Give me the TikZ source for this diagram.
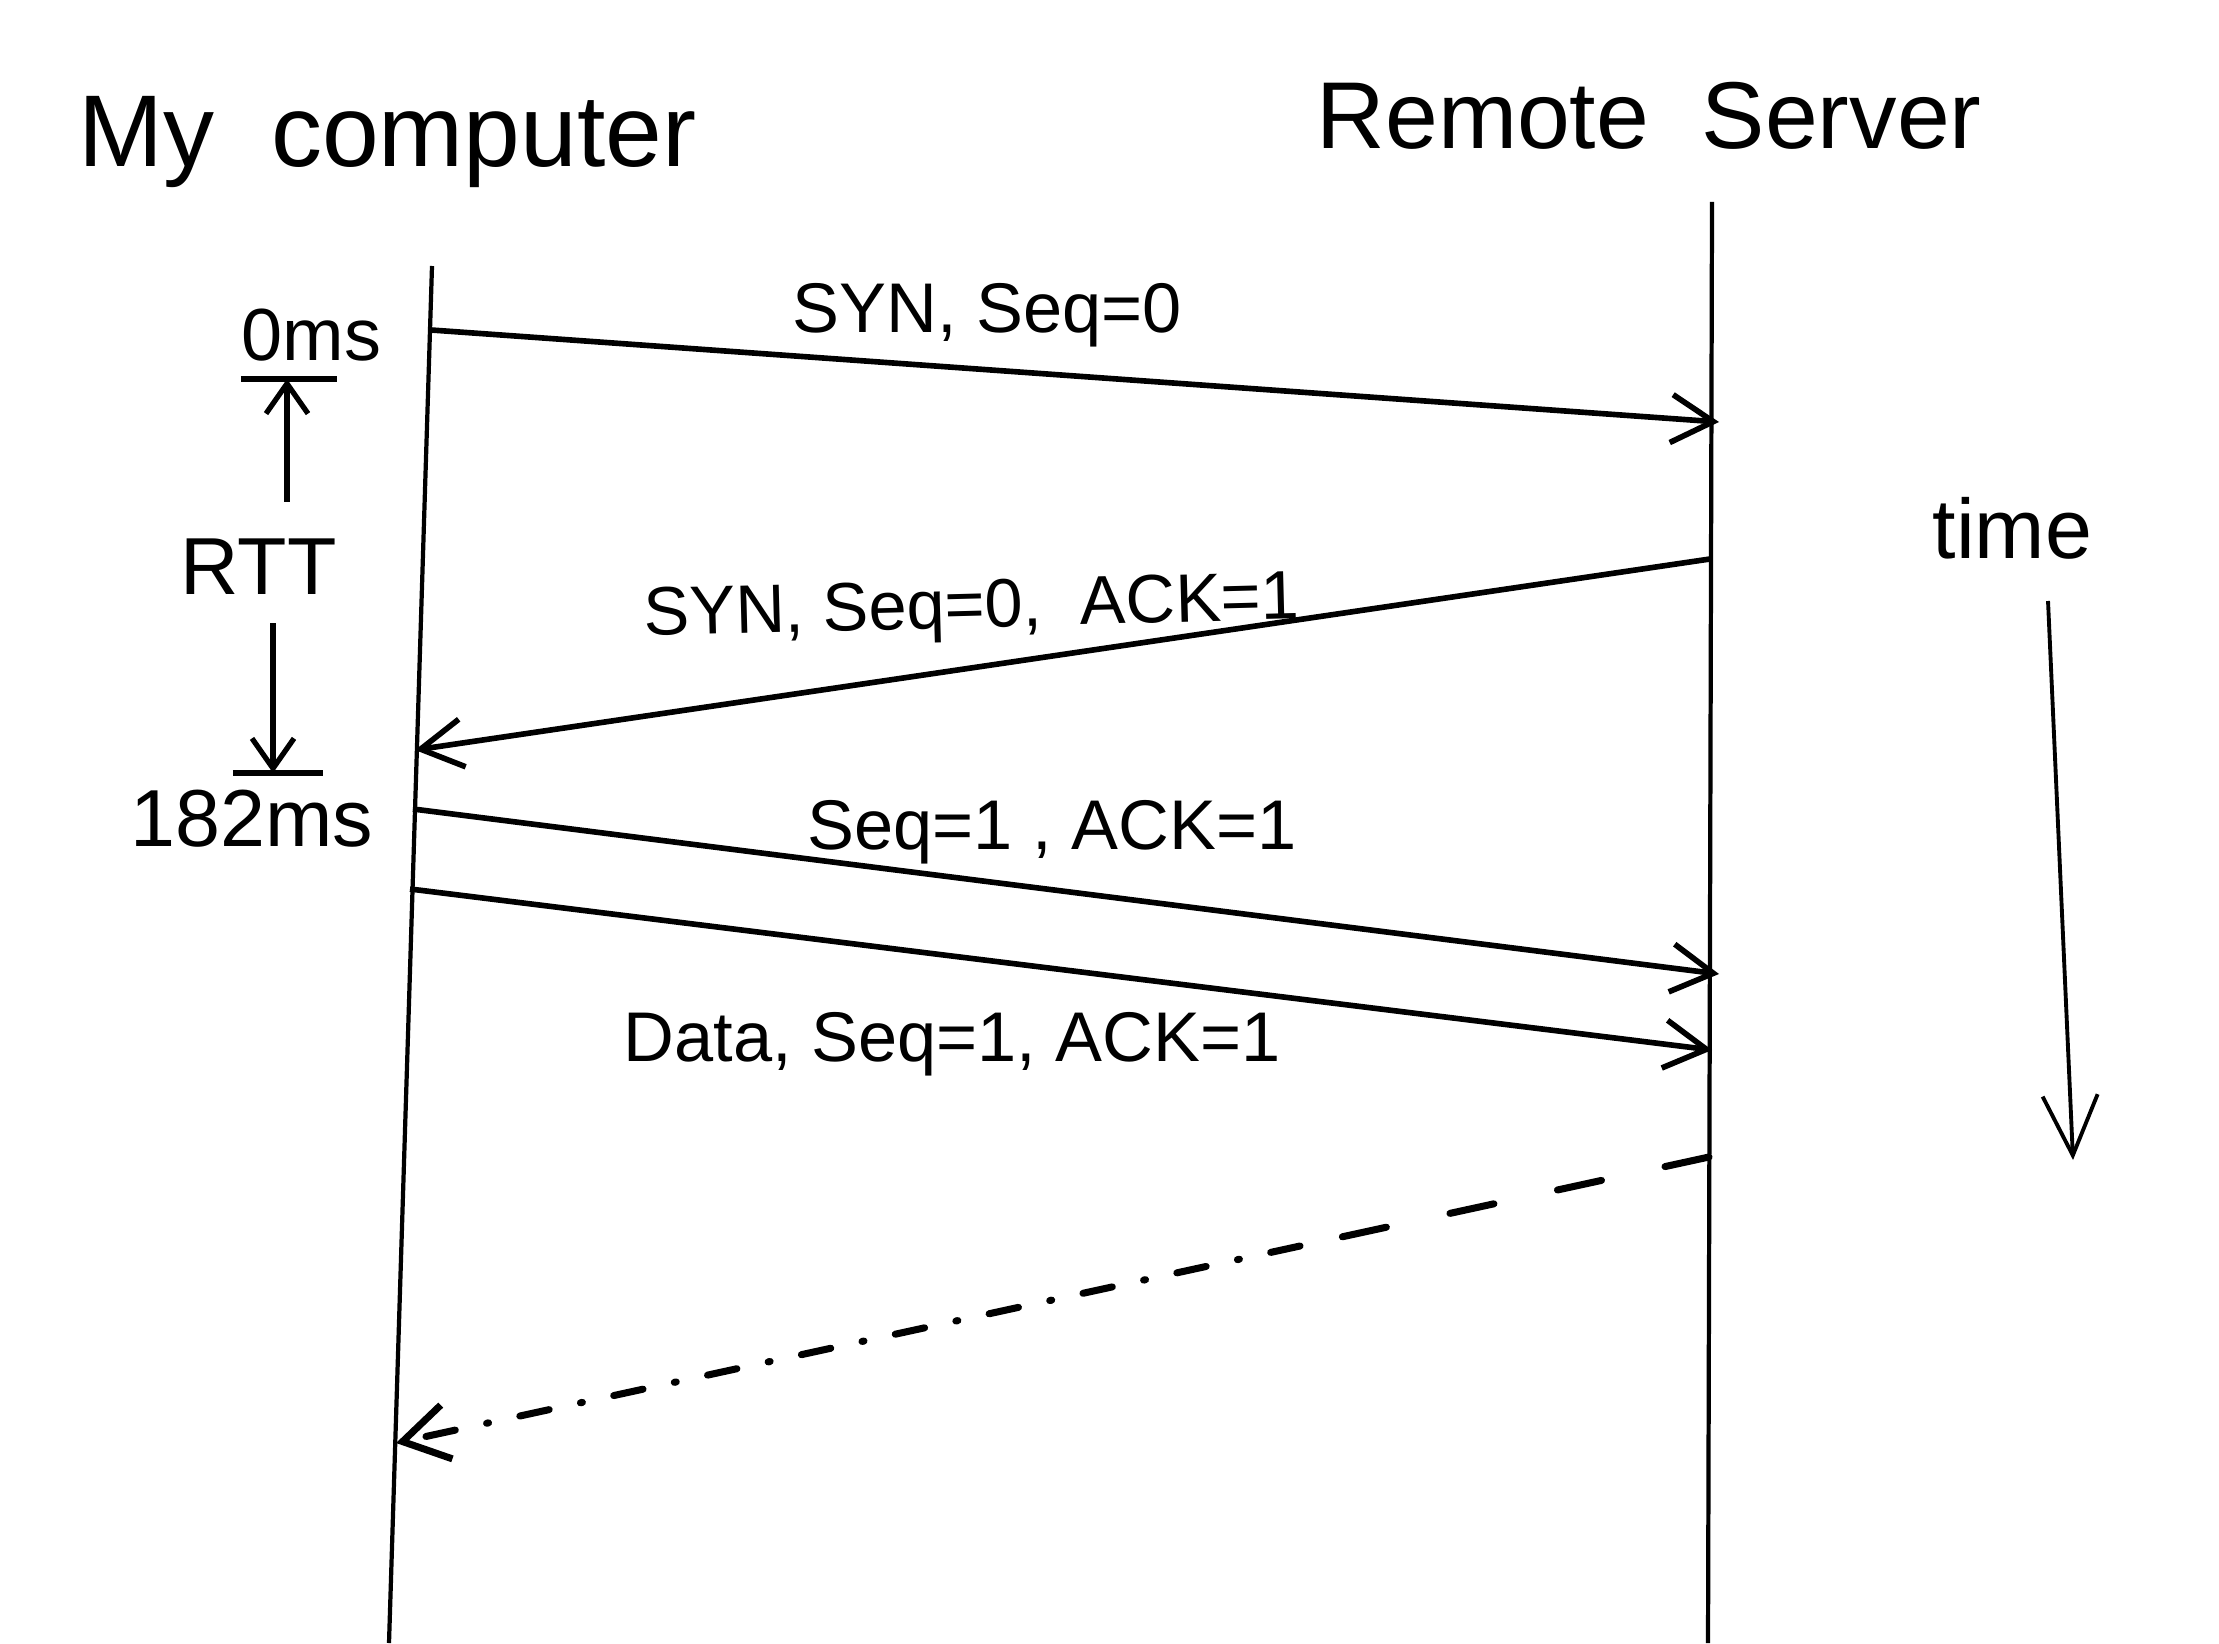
\documentclass[tikz,border=0pt]{standalone}
\usepackage{fontspec}
\setmainfont{Liberation Sans}
\usetikzlibrary{arrows.meta}
\begin{document}
\begin{tikzpicture}[x=0.01cm,y=-0.01cm,
  lbl/.style={anchor=base west, inner sep=0pt, font=\fontsize{20}{24}\selectfont},
  side/.style={anchor=base west, inner sep=0pt, font=\fontsize{23}{28}\selectfont},
  big/.style={anchor=base west, inner sep=0pt, font=\fontsize{29}{34}\selectfont},
  life/.style={line width=1.2pt},
  msg/.style={line width=1.6pt, -{Straight Barb[length=0.42cm,width=0.48cm]}},
  rttarrow/.style={line width=1.5pt, -{Straight Barb[length=0.3cm,width=0.42cm]}},
  barline/.style={line width=1.6pt},
  timearrow/.style={line width=1.1pt, -{Straight Barb[length=0.6cm,width=0.55cm]}}
]
\useasboundingbox[fill=white] (0,0) rectangle (2219,1643);

% titles
\node[big] (mycomp) at (78,167) {My\ \ computer};
\node[big, font=\fontsize{27}{32}\selectfont] (remote) at (1316,149) {Remote\ \ Server};

% lifelines
\coordinate (L1) at (432,266);
\coordinate (L2) at (389,1643);
\coordinate (R1) at (1712,202);
\coordinate (R2) at (1708,1643);
\draw[life] (L1) -- (L2);
\draw[life] (R1) -- (R2);

% message endpoints
\coordinate (a1) at (431,330);
\coordinate (b1) at (1719,422);
\coordinate (a2) at (1710,559);
\coordinate (b2) at (415,750);
\coordinate (a3) at (413,809);
\coordinate (b3) at (1719,974);
\coordinate (a4) at (410,889);
\coordinate (b4) at (1712,1050);
\coordinate (a5) at (1709,1157);
\coordinate (m5) at (1300,1246);
\coordinate (b5) at (396,1443);

\draw[msg] (a1) -- (b1);
\draw[msg] (a2) -- (b2);
\draw[msg] (a3) -- (b3);
\draw[msg] (a4) -- (b4);
\draw[line width=2pt, dash pattern=on 0.45cm off 0.65cm, line cap=round] (a5) -- (m5);
\draw[line width=2pt, dash pattern=on 0.3cm off 0.32cm on 0.02cm off 0.32cm, line cap=round,
      -{Straight Barb[length=0.45cm,width=0.55cm]}] (m5) -- (b5);

% message labels
\node[lbl] (l1) at (792,333) {SYN, Seq=0};
\node[lbl, font=\fontsize{19.5}{23}\selectfont, rotate=1.5] (l2) at (644,636) {SYN, Seq=0, \ ACK=1};
\node[lbl] (l3) at (807,849) {Seq=1 , ACK=1};
\node[lbl] (l4) at (623,1061) {Data, Seq=1, ACK=1};

% RTT annotation
\node[side, font=\fontsize{21}{26}\selectfont] (ms0) at (241,361) {0ms};
\node[side] (rtt) at (180,594) {RTT};
\node[side] (ms182) at (130,846) {182ms};
\coordinate (upbar) at (287,379);
\coordinate (upbot) at (287,502);
\coordinate (dntop) at (273,623);
\coordinate (dnbar) at (273,773);
\draw[rttarrow] (upbot) -- (upbar);
\draw[barline] ([xshift=-0.46cm]upbar) -- ([xshift=0.5cm]upbar);
\draw[rttarrow] (dntop) -- (dnbar);
\draw[barline] ([xshift=-0.4cm]dnbar) -- ([xshift=0.5cm]dnbar);

% time
\node[side, font=\fontsize{24}{28}\selectfont] (time) at (1932,559) {time};
\coordinate (t1) at (2048,601);
\coordinate (t2) at (2073,1160);
\draw[timearrow] (t1) -- (t2);
\end{tikzpicture}
\end{document}
